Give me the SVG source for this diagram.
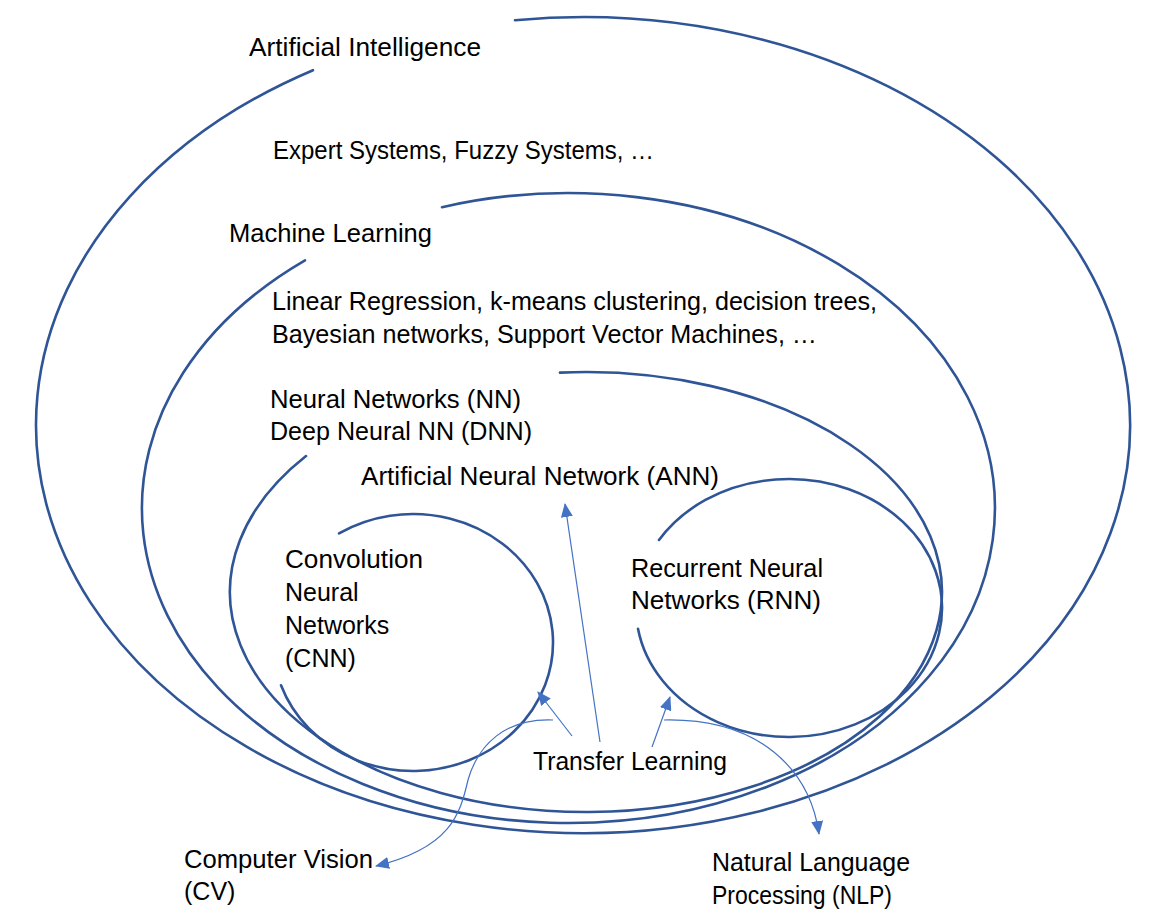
<svg xmlns="http://www.w3.org/2000/svg" width="1154" height="924" viewBox="0 0 1154 924">
<defs>
<style>
.ring{fill:none;stroke:#2F5597;stroke-width:2.6;stroke-linecap:round}
.conn{fill:none;stroke:#4472C4;stroke-width:1.2}
text{font-family:"Liberation Sans",Arial,sans-serif;font-size:25px;fill:#000}
</style>
<marker id="ah" markerUnits="userSpaceOnUse" markerWidth="14" markerHeight="12" refX="13" refY="6" orient="auto">
<path d="M0,0 L14,6 L0,12 z" fill="#4472C4"/>
</marker>
</defs>
<rect width="1154" height="924" fill="#fff"/>
<g id="ai">
<path class="ring" d="M515,20.2 A547,408 0 1 1 313,70.2"/>
<text x="249" y="56" textLength="232" lengthAdjust="spacingAndGlyphs" style="font-size:26px">Artificial Intelligence</text>
<text x="273" y="159" textLength="381" lengthAdjust="spacingAndGlyphs">Expert Systems, Fuzzy Systems, …</text>
</g>
<g id="ml">
<path class="ring" d="M442,207.2 A426.5,315 0 1 1 305,260.3"/>
<text x="229" y="242" textLength="203" lengthAdjust="spacingAndGlyphs">Machine Learning</text>
<text x="272" y="310" textLength="605" lengthAdjust="spacingAndGlyphs">Linear Regression, k-means clustering, decision trees,</text>
<text x="272" y="343" textLength="545" lengthAdjust="spacingAndGlyphs">Bayesian networks, Support Vector Machines, …</text>
</g>
<g id="nn">
<path class="ring" d="M560,372.6 A356,220 0 1 1 306,456.1"/>
<text x="270" y="408" textLength="251" lengthAdjust="spacingAndGlyphs">Neural Networks (NN)</text>
<text x="270" y="440" textLength="262" lengthAdjust="spacingAndGlyphs">Deep Neural NN (DNN)</text>
</g>
<g id="ann">
<text x="361" y="485" textLength="358" lengthAdjust="spacingAndGlyphs">Artificial Neural Network (ANN)</text>
</g>
<g id="cnn">
<path class="ring" d="M339,533.4 A140,128.5 0 1 1 281,685.3"/>
<text x="285" y="568" textLength="138" lengthAdjust="spacingAndGlyphs">Convolution</text>
<text x="285" y="601">Neural</text>
<text x="285" y="634">Networks</text>
<text x="285" y="667">(CNN)</text>
</g>
<g id="rnn">
<path class="ring" d="M659,540 A153,129 0 1 1 638,628.8"/>
<text x="631" y="577" textLength="192" lengthAdjust="spacingAndGlyphs">Recurrent Neural</text>
<text x="631" y="609" textLength="190" lengthAdjust="spacingAndGlyphs">Networks (RNN)</text>
</g>
<g id="transfer">
<text x="533" y="770" textLength="194" lengthAdjust="spacingAndGlyphs">Transfer Learning</text>
</g>
<g id="cv">
<text x="184" y="868" textLength="189" lengthAdjust="spacingAndGlyphs">Computer Vision</text>
<text x="184" y="900">(CV)</text>
</g>
<g id="nlp">
<text x="712" y="871" textLength="198" lengthAdjust="spacingAndGlyphs">Natural Language</text>
<text x="712" y="904" textLength="180" lengthAdjust="spacingAndGlyphs">Processing (NLP)</text>
</g>
<g id="connectors">
<path class="conn" d="M572,736 L538,692" marker-end="url(#ah)"/>
<path class="conn" d="M600,742 L565,504" marker-end="url(#ah)"/>
<path class="conn" d="M652,747 L670,697" marker-end="url(#ah)"/>
<path class="conn" d="M553,720 C505,718 478,745 468,780 C460,815 450,848 376,866" marker-end="url(#ah)"/>
<path class="conn" d="M664,720 C760,718 810,770 819,834" marker-end="url(#ah)"/>
</g>
</svg>
